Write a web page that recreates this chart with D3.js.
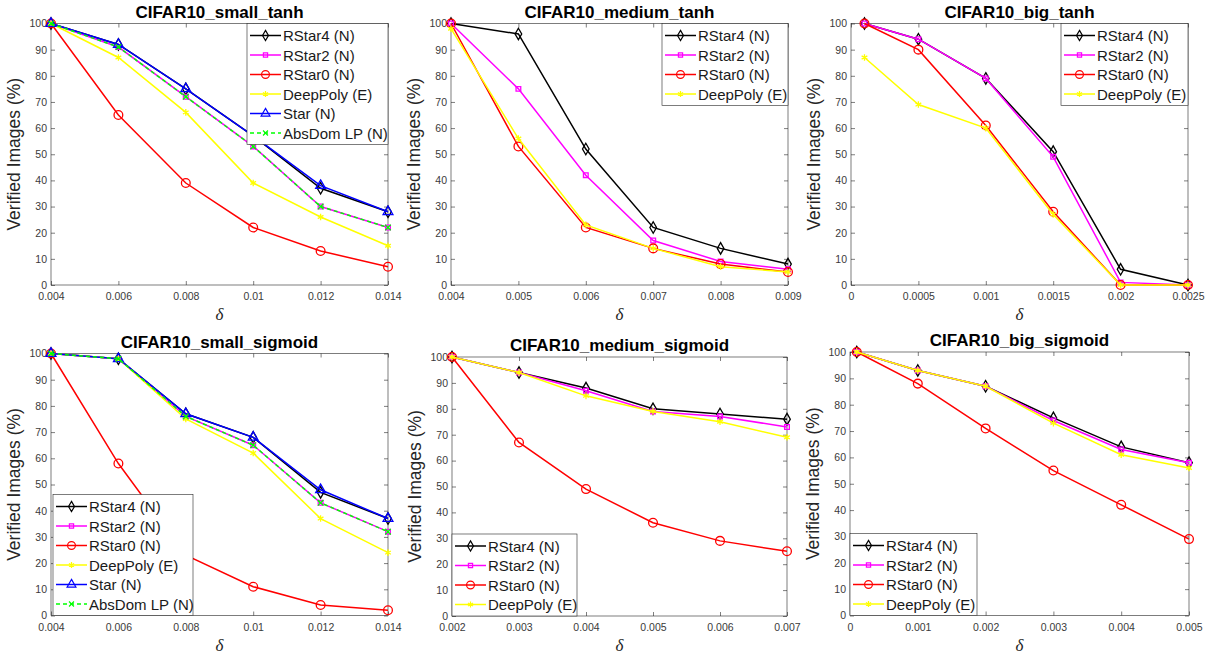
<!DOCTYPE html>
<html>
<head>
<meta charset="utf-8">
<script src="https://cdn.jsdelivr.net/npm/d3@7"></script>
<style>
  body { margin: 0; background: #fff; }
  svg { font-family: "Liberation Sans", Arial, sans-serif; }
</style>
</head>
<body>
<div id="chart"></div>
<script>
// Series names in legend order
var seriesNames = ["RStar4 (N)", "RStar2 (N)", "RStar0 (N)", "DeepPoly (E)", "Star (N)", "AbsDom LP (N)"];

// x values (delta) per panel
var smallX = [0.004, 0.006, 0.008, 0.01, 0.012, 0.014];
var mediumTanhX = [0.004, 0.005, 0.006, 0.007, 0.008, 0.009];
var bigTanhX = [0.0001, 0.0005, 0.001, 0.0015, 0.002, 0.0025];
var mediumSigmoidX = [0.002, 0.003, 0.004, 0.005, 0.006, 0.007];
var bigSigmoidX = [0.0001, 0.001, 0.002, 0.003, 0.004, 0.005];

// tick labels
var smallTicks = ["0.004", "0.006", "0.008", "0.01", "0.012", "0.014"];
var mediumTanhTicks = ["0.004", "0.005", "0.006", "0.007", "0.008", "0.009"];
var bigTanhTicks = ["0", "0.0005", "0.001", "0.0015", "0.002", "0.0025"];
var mediumSigmoidTicks = ["0.002", "0.003", "0.004", "0.005", "0.006", "0.007"];
var bigSigmoidTicks = ["0", "0.001", "0.002", "0.003", "0.004", "0.005"];
var yTicks = [0, 10, 20, 30, 40, 50, 60, 70, 80, 90, 100];

// verified images (%), one row per series
var smallTanh = [
    [100, 92, 75, 57, 37, 28],
    [100, 91, 72, 53, 30, 22],
    [100, 65, 39, 22, 13, 7],
    [100, 87, 66, 39, 26, 15],
    [100, 92, 75, 57, 38, 28],
    [100, 91, 72, 53, 30, 22]
];
var mediumTanh = [
    [100, 96, 52, 22, 14, 8],
    [100, 75, 42, 17, 9, 6],
    [100, 53, 22, 14, 8, 5],
    [98, 56, 23, 14, 7, 5]
];
var bigTanh = [
    [100, 94, 79, 51, 6, 0],
    [100, 94, 79, 49, 1, 0],
    [100, 90, 61, 28, 0, 0],
    [87, 69, 60, 27, 0, 0]
];
var smallSigmoid = [
    [100, 98, 77, 68, 47, 37],
    [100, 98, 76, 65, 43, 32],
    [100, 58, 23, 11, 4, 2],
    [100, 98, 75, 62, 37, 24],
    [100, 98, 77, 68, 48, 37],
    [100, 98, 76, 65, 43, 32]
];
var mediumSigmoid = [
    [100, 94, 88, 80, 78, 76],
    [100, 94, 87, 79, 77, 73],
    [100, 67, 49, 36, 29, 25],
    [100, 94, 85, 79, 75, 69]
];
var bigSigmoid = [
    [100, 93, 87, 75, 64, 58],
    [100, 93, 87, 74, 63, 58],
    [100, 88, 71, 55, 42, 29],
    [100, 93, 87, 73, 61, 56]
];

// Styles for each series
var styles = [
    { color: "#000000", symbol: d3.symbolDiamond, size: 38, fill: "none", dash: null },
    { color: "#ff00ff", symbol: d3.symbolSquare, size: 22, fill: "none", dash: null },
    { color: "#ff0000", symbol: d3.symbolCircle, size: 60, fill: "none", dash: null },
    { color: "#ffff00", symbol: d3.symbolAsterisk, size: 30, fill: "none", dash: null },
    { color: "#0000ff", symbol: d3.symbolTriangle, size: 42, fill: "none", dash: null },
    { color: "#00ff00", symbol: d3.symbolX, size: 22, fill: "none", dash: "4,3" }
];

// Panels: data + where they sit on the page
var panels = [
    { title: "CIFAR10_small_tanh", x: smallX, data: smallTanh, domain: [0.004, 0.014], ticks: smallTicks,
      left: 51, right: 388, top: 23.5, bottom: 285, legend: { x0: 247, y0: 23.5, w: 141, pos: "tr" } },
    { title: "CIFAR10_medium_tanh", x: mediumTanhX, data: mediumTanh, domain: [0.004, 0.009], ticks: mediumTanhTicks,
      left: 451, right: 788, top: 23.5, bottom: 285, legend: { x0: 662, y0: 23.5, w: 126, pos: "tr" } },
    { title: "CIFAR10_big_tanh", x: bigTanhX, data: bigTanh, domain: [0, 0.0025], ticks: bigTanhTicks,
      left: 851, right: 1188, top: 23.5, bottom: 285, legend: { x0: 1061, y0: 23.5, w: 127, pos: "tr" } },
    { title: "CIFAR10_small_sigmoid", x: smallX, data: smallSigmoid, domain: [0.004, 0.014], ticks: smallTicks,
      left: 51, right: 388, top: 353.5, bottom: 615.5, legend: { x0: 53, w: 140, pos: "bl" } },
    { title: "CIFAR10_medium_sigmoid", x: mediumSigmoidX, data: mediumSigmoid, domain: [0.002, 0.007], ticks: mediumSigmoidTicks,
      left: 452, right: 787, top: 357, bottom: 616, legend: { x0: 452, w: 125, pos: "bl" } },
    { title: "CIFAR10_big_sigmoid", x: bigSigmoidX, data: bigSigmoid, domain: [0, 0.005], ticks: bigSigmoidTicks,
      left: 850, right: 1189, top: 352, bottom: 615.5, legend: { x0: 850, w: 127, pos: "bl" } }
];

var svg = d3.select("#chart").append("svg")
    .attr("width", 1209)
    .attr("height", 656);

var axisColor = "#262626";
var rowStep = 19.5;

panels.forEach(function(p) {
    var x = d3.scaleLinear().domain(p.domain).range([p.left, p.right]);
    var y = d3.scaleLinear().domain([0, 100]).range([p.bottom, p.top]);
    var tickVals = p.ticks.map(function(t) { return +t; });
    var g = svg.append("g");

    // Axes with inward ticks (Matlab style)
    var xAxis = g.append("g")
        .attr("transform", "translate(0," + p.bottom + ")")
        .call(d3.axisBottom(x).tickValues(tickVals).tickSizeInner(-4).tickSizeOuter(0)
            .tickFormat(function(d, i) { return p.ticks[i]; }));
    var xAxisTop = g.append("g")
        .attr("transform", "translate(0," + p.top + ")")
        .call(d3.axisTop(x).tickValues(tickVals).tickSizeInner(-4).tickSizeOuter(0).tickFormat(""));
    var yAxis = g.append("g")
        .attr("transform", "translate(" + p.left + ",0)")
        .call(d3.axisLeft(y).tickValues(yTicks).tickSizeInner(-4).tickSizeOuter(0));
    var yAxisRight = g.append("g")
        .attr("transform", "translate(" + p.right + ",0)")
        .call(d3.axisRight(y).tickValues(yTicks).tickSizeInner(-4).tickSizeOuter(0).tickFormat(""));
    [xAxis, xAxisTop, yAxis, yAxisRight].forEach(function(a) {
        a.select(".domain").remove();
        a.selectAll("line").attr("stroke", axisColor).attr("stroke-width", 0.6);
        a.selectAll("text").attr("fill", "#3a3a3a").style("font-size", "10.5px")
            .style("font-family", "'Liberation Sans', Arial, sans-serif");
    });
    xAxis.selectAll("text").attr("dy", "1.15em");
    yAxis.selectAll("text").attr("x", -4);

    // Box
    g.append("rect")
        .attr("x", p.left).attr("y", p.top)
        .attr("width", p.right - p.left).attr("height", p.bottom - p.top)
        .attr("fill", "none").attr("stroke", axisColor).attr("stroke-width", 0.6);

    // Title
    g.append("text")
        .attr("x", (p.left + p.right) / 2)
        .attr("y", p.top - 6)
        .attr("text-anchor", "middle")
        .style("font-size", "17px")
        .style("font-weight", "700")
        .text(p.title);

    // Axis labels
    g.append("text")
        .attr("transform", "translate(" + (p.left - 31) + "," + ((p.top + p.bottom) / 2) + ") rotate(-90)")
        .attr("text-anchor", "middle")
        .attr("fill", axisColor)
        .style("font-size", "17.5px")
        .text("Verified Images (%)");
    g.append("text")
        .attr("x", (p.left + p.right) / 2)
        .attr("y", p.bottom + 35)
        .attr("text-anchor", "middle")
        .attr("fill", axisColor)
        .style("font-family", "'Liberation Serif', 'Times New Roman', serif")
        .style("font-style", "italic")
        .style("font-size", "17px")
        .text("\u03b4");

    // Lines and markers
    var line = d3.line()
        .x(function(d) { return x(d[0]); })
        .y(function(d) { return y(d[1]); });

    p.data.forEach(function(values, si) {
        var s = styles[si];
        var pts = values.map(function(v, i) { return [p.x[i], v]; });
        g.append("path")
            .attr("d", line(pts))
            .attr("fill", "none")
            .attr("stroke", s.color)
            .attr("stroke-width", 1.5)
            .attr("stroke-dasharray", s.dash);
        g.selectAll(null)
            .data(pts)
            .enter()
            .append("path")
            .attr("transform", function(d) { return "translate(" + x(d[0]) + "," + y(d[1]) + ")"; })
            .attr("d", d3.symbol().type(s.symbol).size(s.size))
            .attr("fill", s.fill)
            .attr("stroke", s.color)
            .attr("stroke-width", 1.3);
    });

    // Legend
    var n = p.data.length;
    var lh = n * rowStep + 4;
    var ly0 = p.legend.pos === "tr" ? p.legend.y0 : p.bottom - lh;
    var lg = g.append("g");
    lg.append("rect")
        .attr("x", p.legend.x0).attr("y", ly0)
        .attr("width", p.legend.w).attr("height", lh)
        .attr("fill", "#fff").attr("stroke", axisColor).attr("stroke-width", 0.6);
    p.data.forEach(function(values, si) {
        var s = styles[si];
        var cy = ly0 + 12 + si * rowStep;
        var lx = p.legend.x0 + 3;
        lg.append("line")
            .attr("x1", lx).attr("x2", lx + 31)
            .attr("y1", cy).attr("y2", cy)
            .attr("stroke", s.color).attr("stroke-width", 1.5)
            .attr("stroke-dasharray", s.dash);
        lg.append("path")
            .attr("transform", "translate(" + (lx + 15.5) + "," + cy + ")")
            .attr("d", d3.symbol().type(s.symbol).size(s.size * 0.8))
            .attr("fill", s.fill).attr("stroke", s.color).attr("stroke-width", 1.2);
        lg.append("text")
            .attr("x", lx + 33).attr("y", cy)
            .attr("dominant-baseline", "central")
            .attr("fill", "#1a1a1a")
            .style("font-size", "15px")
            .text(seriesNames[si]);
    });
});
</script>
</body>
</html>
